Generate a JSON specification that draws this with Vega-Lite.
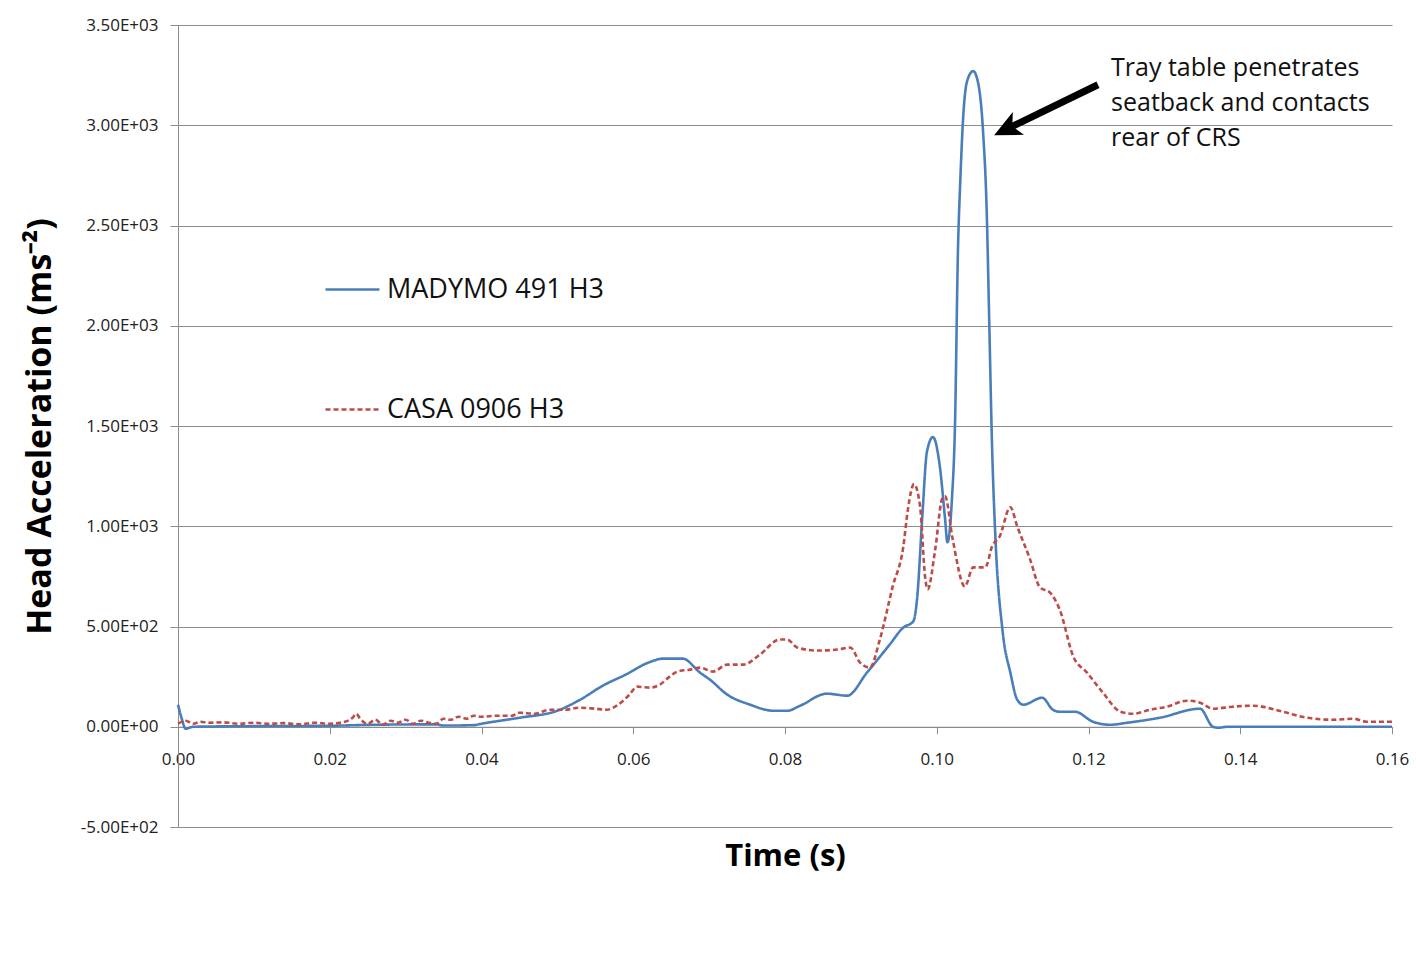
{
  "$schema": "https://vega.github.io/schema/vega-lite/v6.json",
  "width": 1214,
  "height": 802,
  "autosize": "none",
  "padding": {"left": 178, "top": 25, "right": 24, "bottom": 130},
  "background": "white",
  "config": {"view": {"stroke": null}, "font": "Open Sans"},
  "datasets": {
    "curves": [
      {"t": 0, "acc": 110, "series": "MADYMO 491 H3"},
      {"t": 0.0005, "acc": 40, "series": "MADYMO 491 H3"},
      {"t": 0.001, "acc": -10, "series": "MADYMO 491 H3"},
      {"t": 0.0015, "acc": -5, "series": "MADYMO 491 H3"},
      {"t": 0.002, "acc": 0, "series": "MADYMO 491 H3"},
      {"t": 0.01, "acc": 3, "series": "MADYMO 491 H3"},
      {"t": 0.02, "acc": 5, "series": "MADYMO 491 H3"},
      {"t": 0.026, "acc": 10, "series": "MADYMO 491 H3"},
      {"t": 0.034, "acc": 12, "series": "MADYMO 491 H3"},
      {"t": 0.035, "acc": 6, "series": "MADYMO 491 H3"},
      {"t": 0.039, "acc": 8, "series": "MADYMO 491 H3"},
      {"t": 0.04, "acc": 15, "series": "MADYMO 491 H3"},
      {"t": 0.045, "acc": 45, "series": "MADYMO 491 H3"},
      {"t": 0.05, "acc": 80, "series": "MADYMO 491 H3"},
      {"t": 0.053, "acc": 135, "series": "MADYMO 491 H3"},
      {"t": 0.056, "acc": 205, "series": "MADYMO 491 H3"},
      {"t": 0.059, "acc": 260, "series": "MADYMO 491 H3"},
      {"t": 0.062, "acc": 320, "series": "MADYMO 491 H3"},
      {"t": 0.064, "acc": 340, "series": "MADYMO 491 H3"},
      {"t": 0.0665, "acc": 340, "series": "MADYMO 491 H3"},
      {"t": 0.0688, "acc": 270, "series": "MADYMO 491 H3"},
      {"t": 0.0701, "acc": 235, "series": "MADYMO 491 H3"},
      {"t": 0.0724, "acc": 160, "series": "MADYMO 491 H3"},
      {"t": 0.0754, "acc": 110, "series": "MADYMO 491 H3"},
      {"t": 0.0784, "acc": 80, "series": "MADYMO 491 H3"},
      {"t": 0.0803, "acc": 80, "series": "MADYMO 491 H3"},
      {"t": 0.082, "acc": 105, "series": "MADYMO 491 H3"},
      {"t": 0.0855, "acc": 165, "series": "MADYMO 491 H3"},
      {"t": 0.0882, "acc": 155, "series": "MADYMO 491 H3"},
      {"t": 0.0908, "acc": 270, "series": "MADYMO 491 H3"},
      {"t": 0.0938, "acc": 410, "series": "MADYMO 491 H3"},
      {"t": 0.0956, "acc": 495, "series": "MADYMO 491 H3"},
      {"t": 0.0969, "acc": 525, "series": "MADYMO 491 H3"},
      {"t": 0.0974, "acc": 635, "series": "MADYMO 491 H3"},
      {"t": 0.0981, "acc": 1050, "series": "MADYMO 491 H3"},
      {"t": 0.0987, "acc": 1370, "series": "MADYMO 491 H3"},
      {"t": 0.0995, "acc": 1445, "series": "MADYMO 491 H3"},
      {"t": 0.1004, "acc": 1300, "series": "MADYMO 491 H3"},
      {"t": 0.1011, "acc": 1035, "series": "MADYMO 491 H3"},
      {"t": 0.1014, "acc": 920, "series": "MADYMO 491 H3"},
      {"t": 0.102, "acc": 1135, "series": "MADYMO 491 H3"},
      {"t": 0.1024, "acc": 1500, "series": "MADYMO 491 H3"},
      {"t": 0.1028, "acc": 2385, "series": "MADYMO 491 H3"},
      {"t": 0.1031, "acc": 2720, "series": "MADYMO 491 H3"},
      {"t": 0.1035, "acc": 3050, "series": "MADYMO 491 H3"},
      {"t": 0.104, "acc": 3220, "series": "MADYMO 491 H3"},
      {"t": 0.1048, "acc": 3270, "series": "MADYMO 491 H3"},
      {"t": 0.1054, "acc": 3220, "series": "MADYMO 491 H3"},
      {"t": 0.1061, "acc": 2970, "series": "MADYMO 491 H3"},
      {"t": 0.1066, "acc": 2550, "series": "MADYMO 491 H3"},
      {"t": 0.1069, "acc": 2050, "series": "MADYMO 491 H3"},
      {"t": 0.1073, "acc": 1385, "series": "MADYMO 491 H3"},
      {"t": 0.1077, "acc": 970, "series": "MADYMO 491 H3"},
      {"t": 0.1087, "acc": 470, "series": "MADYMO 491 H3"},
      {"t": 0.1097, "acc": 270, "series": "MADYMO 491 H3"},
      {"t": 0.1106, "acc": 135, "series": "MADYMO 491 H3"},
      {"t": 0.1114, "acc": 110, "series": "MADYMO 491 H3"},
      {"t": 0.1139, "acc": 145, "series": "MADYMO 491 H3"},
      {"t": 0.1153, "acc": 85, "series": "MADYMO 491 H3"},
      {"t": 0.1162, "acc": 75, "series": "MADYMO 491 H3"},
      {"t": 0.1182, "acc": 75, "series": "MADYMO 491 H3"},
      {"t": 0.1206, "acc": 25, "series": "MADYMO 491 H3"},
      {"t": 0.1228, "acc": 10, "series": "MADYMO 491 H3"},
      {"t": 0.1251, "acc": 20, "series": "MADYMO 491 H3"},
      {"t": 0.1294, "acc": 45, "series": "MADYMO 491 H3"},
      {"t": 0.1347, "acc": 90, "series": "MADYMO 491 H3"},
      {"t": 0.1364, "acc": 0, "series": "MADYMO 491 H3"},
      {"t": 0.1371, "acc": -5, "series": "MADYMO 491 H3"},
      {"t": 0.1383, "acc": 0, "series": "MADYMO 491 H3"},
      {"t": 0.16, "acc": 0, "series": "MADYMO 491 H3"},
      {"t": 0, "acc": 15, "series": "CASA 0906 H3"},
      {"t": 0.001, "acc": 30, "series": "CASA 0906 H3"},
      {"t": 0.002, "acc": 15, "series": "CASA 0906 H3"},
      {"t": 0.003, "acc": 25, "series": "CASA 0906 H3"},
      {"t": 0.004, "acc": 20, "series": "CASA 0906 H3"},
      {"t": 0.006, "acc": 22, "series": "CASA 0906 H3"},
      {"t": 0.008, "acc": 15, "series": "CASA 0906 H3"},
      {"t": 0.01, "acc": 20, "series": "CASA 0906 H3"},
      {"t": 0.012, "acc": 15, "series": "CASA 0906 H3"},
      {"t": 0.014, "acc": 18, "series": "CASA 0906 H3"},
      {"t": 0.016, "acc": 12, "series": "CASA 0906 H3"},
      {"t": 0.018, "acc": 20, "series": "CASA 0906 H3"},
      {"t": 0.02, "acc": 15, "series": "CASA 0906 H3"},
      {"t": 0.022, "acc": 25, "series": "CASA 0906 H3"},
      {"t": 0.023, "acc": 45, "series": "CASA 0906 H3"},
      {"t": 0.0235, "acc": 65, "series": "CASA 0906 H3"},
      {"t": 0.024, "acc": 40, "series": "CASA 0906 H3"},
      {"t": 0.025, "acc": 15, "series": "CASA 0906 H3"},
      {"t": 0.026, "acc": 35, "series": "CASA 0906 H3"},
      {"t": 0.027, "acc": 10, "series": "CASA 0906 H3"},
      {"t": 0.028, "acc": 30, "series": "CASA 0906 H3"},
      {"t": 0.029, "acc": 20, "series": "CASA 0906 H3"},
      {"t": 0.03, "acc": 35, "series": "CASA 0906 H3"},
      {"t": 0.031, "acc": 15, "series": "CASA 0906 H3"},
      {"t": 0.032, "acc": 30, "series": "CASA 0906 H3"},
      {"t": 0.033, "acc": 20, "series": "CASA 0906 H3"},
      {"t": 0.034, "acc": 15, "series": "CASA 0906 H3"},
      {"t": 0.035, "acc": 40, "series": "CASA 0906 H3"},
      {"t": 0.036, "acc": 35, "series": "CASA 0906 H3"},
      {"t": 0.037, "acc": 50, "series": "CASA 0906 H3"},
      {"t": 0.038, "acc": 40, "series": "CASA 0906 H3"},
      {"t": 0.039, "acc": 55, "series": "CASA 0906 H3"},
      {"t": 0.04, "acc": 50, "series": "CASA 0906 H3"},
      {"t": 0.042, "acc": 55, "series": "CASA 0906 H3"},
      {"t": 0.044, "acc": 55, "series": "CASA 0906 H3"},
      {"t": 0.045, "acc": 70, "series": "CASA 0906 H3"},
      {"t": 0.047, "acc": 65, "series": "CASA 0906 H3"},
      {"t": 0.049, "acc": 85, "series": "CASA 0906 H3"},
      {"t": 0.051, "acc": 85, "series": "CASA 0906 H3"},
      {"t": 0.053, "acc": 95, "series": "CASA 0906 H3"},
      {"t": 0.055, "acc": 90, "series": "CASA 0906 H3"},
      {"t": 0.0565, "acc": 85, "series": "CASA 0906 H3"},
      {"t": 0.058, "acc": 110, "series": "CASA 0906 H3"},
      {"t": 0.0595, "acc": 160, "series": "CASA 0906 H3"},
      {"t": 0.0605, "acc": 200, "series": "CASA 0906 H3"},
      {"t": 0.0622, "acc": 195, "series": "CASA 0906 H3"},
      {"t": 0.0635, "acc": 210, "series": "CASA 0906 H3"},
      {"t": 0.0648, "acc": 250, "series": "CASA 0906 H3"},
      {"t": 0.0658, "acc": 275, "series": "CASA 0906 H3"},
      {"t": 0.0675, "acc": 285, "series": "CASA 0906 H3"},
      {"t": 0.0688, "acc": 295, "series": "CASA 0906 H3"},
      {"t": 0.0705, "acc": 275, "series": "CASA 0906 H3"},
      {"t": 0.0724, "acc": 310, "series": "CASA 0906 H3"},
      {"t": 0.0745, "acc": 310, "series": "CASA 0906 H3"},
      {"t": 0.0767, "acc": 360, "series": "CASA 0906 H3"},
      {"t": 0.0793, "acc": 435, "series": "CASA 0906 H3"},
      {"t": 0.0803, "acc": 435, "series": "CASA 0906 H3"},
      {"t": 0.0816, "acc": 395, "series": "CASA 0906 H3"},
      {"t": 0.0842, "acc": 380, "series": "CASA 0906 H3"},
      {"t": 0.0869, "acc": 385, "series": "CASA 0906 H3"},
      {"t": 0.0886, "acc": 395, "series": "CASA 0906 H3"},
      {"t": 0.0899, "acc": 320, "series": "CASA 0906 H3"},
      {"t": 0.0912, "acc": 295, "series": "CASA 0906 H3"},
      {"t": 0.0925, "acc": 435, "series": "CASA 0906 H3"},
      {"t": 0.0942, "acc": 700, "series": "CASA 0906 H3"},
      {"t": 0.0956, "acc": 900, "series": "CASA 0906 H3"},
      {"t": 0.0962, "acc": 1085, "series": "CASA 0906 H3"},
      {"t": 0.097, "acc": 1210, "series": "CASA 0906 H3"},
      {"t": 0.0978, "acc": 1100, "series": "CASA 0906 H3"},
      {"t": 0.0985, "acc": 735, "series": "CASA 0906 H3"},
      {"t": 0.0988, "acc": 685, "series": "CASA 0906 H3"},
      {"t": 0.0998, "acc": 885, "series": "CASA 0906 H3"},
      {"t": 0.1007, "acc": 1135, "series": "CASA 0906 H3"},
      {"t": 0.1011, "acc": 1150, "series": "CASA 0906 H3"},
      {"t": 0.1021, "acc": 935, "series": "CASA 0906 H3"},
      {"t": 0.1037, "acc": 700, "series": "CASA 0906 H3"},
      {"t": 0.1048, "acc": 795, "series": "CASA 0906 H3"},
      {"t": 0.1064, "acc": 795, "series": "CASA 0906 H3"},
      {"t": 0.1073, "acc": 900, "series": "CASA 0906 H3"},
      {"t": 0.1083, "acc": 950, "series": "CASA 0906 H3"},
      {"t": 0.1097, "acc": 1095, "series": "CASA 0906 H3"},
      {"t": 0.1106, "acc": 1000, "series": "CASA 0906 H3"},
      {"t": 0.1123, "acc": 835, "series": "CASA 0906 H3"},
      {"t": 0.1136, "acc": 695, "series": "CASA 0906 H3"},
      {"t": 0.1149, "acc": 670, "series": "CASA 0906 H3"},
      {"t": 0.1162, "acc": 585, "series": "CASA 0906 H3"},
      {"t": 0.118, "acc": 350, "series": "CASA 0906 H3"},
      {"t": 0.1198, "acc": 270, "series": "CASA 0906 H3"},
      {"t": 0.1219, "acc": 170, "series": "CASA 0906 H3"},
      {"t": 0.1242, "acc": 75, "series": "CASA 0906 H3"},
      {"t": 0.1259, "acc": 65, "series": "CASA 0906 H3"},
      {"t": 0.1281, "acc": 85, "series": "CASA 0906 H3"},
      {"t": 0.1303, "acc": 100, "series": "CASA 0906 H3"},
      {"t": 0.133, "acc": 130, "series": "CASA 0906 H3"},
      {"t": 0.1347, "acc": 120, "series": "CASA 0906 H3"},
      {"t": 0.1364, "acc": 90, "series": "CASA 0906 H3"},
      {"t": 0.139, "acc": 100, "series": "CASA 0906 H3"},
      {"t": 0.1417, "acc": 105, "series": "CASA 0906 H3"},
      {"t": 0.1456, "acc": 75, "series": "CASA 0906 H3"},
      {"t": 0.1488, "acc": 45, "series": "CASA 0906 H3"},
      {"t": 0.1522, "acc": 35, "series": "CASA 0906 H3"},
      {"t": 0.1549, "acc": 40, "series": "CASA 0906 H3"},
      {"t": 0.1567, "acc": 25, "series": "CASA 0906 H3"},
      {"t": 0.16, "acc": 25, "series": "CASA 0906 H3"}
    ],
    "arrow": [
      {"t1": 0.12125, "a1": 3202, "t2": 0.10934, "a2": 2983}
    ],
    "note": [
      {"t": 0.12297, "acc": 3347, "label": "Tray table penetrates\nseatback and contacts\nrear of CRS"}
    ]
  },
  "layer": [
    {
      "data": {"name": "curves"},
      "mark": {"type": "line", "interpolate": "monotone", "strokeWidth": 2.6},
      "encoding": {
        "x": {
          "field": "t", "type": "quantitative",
          "scale": {"domain": [0, 0.16], "nice": false, "zero": false},
          "axis": {
            "title": "Time (s)",
            "values": [0, 0.02, 0.04, 0.06, 0.08, 0.1, 0.12, 0.14, 0.16],
            "format": ".2f",
            "offset": -100.25,
            "grid": false,
            "domainColor": "#8c8c8c",
            "tickColor": "#8c8c8c",
            "tickSize": 7,
            "labelPadding": 26,
            "labelBaseline": "middle",
            "labelFont": "Open Sans",
            "labelFontSize": 17,
            "labelColor": "#222222",
            "labelFlush": false,
            "labelOverlap": false,
            "titleFont": "Open Sans",
            "titleFontSize": 31,
            "titleFontWeight": "bold",
            "titleColor": "#000000",
            "titleBaseline": "middle",
            "titleY": 130
          }
        },
        "y": {
          "field": "acc", "type": "quantitative",
          "scale": {"domain": [-500, 3500], "nice": false, "zero": false},
          "axis": {
            "title": "Head Acceleration (ms⁻²)",
            "values": [-500, 0, 500, 1000, 1500, 2000, 2500, 3000, 3500],
            "labelExpr": "datum.value == 0 ? '0.00E+00' : (datum.value < 0 ? '-' : '') + format(abs(datum.value) / pow(10, floor(log(abs(datum.value)) / LN10 + 1e-9)), '.2f') + 'E+' + format(floor(log(abs(datum.value)) / LN10 + 1e-9), '02d')",
            "grid": true,
            "gridColor": "#8c8c8c",
            "gridWidth": 1,
            "domainColor": "#8c8c8c",
            "tickColor": "#8c8c8c",
            "tickSize": 8,
            "labelPadding": 12,
            "labelFont": "Open Sans",
            "labelFontSize": 17,
            "labelColor": "#222222",
            "labelOverlap": false,
            "titleFont": "Open Sans",
            "titleFontSize": 34,
            "titleFontWeight": "bold",
            "titleColor": "#000000",
            "titleBaseline": "middle",
            "titleX": -138
          }
        },
        "color": {
          "field": "series", "type": "nominal",
          "scale": {"domain": ["MADYMO 491 H3", "CASA 0906 H3"], "range": ["#4a7ebb", "#be4b48"]},
          "legend": {
            "orient": "none", "legendX": 146, "legendY": 236, "title": null,
            "symbolType": "stroke", "symbolSize": 2916, "symbolStrokeWidth": 2.6,
            "labelFont": "Open Sans", "labelFontSize": 27, "labelColor": "#111111",
            "labelOffset": 6, "rowPadding": 78, "labelLimit": 400
          }
        },
        "strokeDash": {
          "field": "series", "type": "nominal",
          "scale": {"domain": ["MADYMO 491 H3", "CASA 0906 H3"], "range": [[1, 0], [5, 3]]},
          "legend": {
            "orient": "none", "legendX": 146, "legendY": 236, "title": null,
            "symbolType": "stroke", "symbolSize": 2916, "symbolStrokeWidth": 2.6,
            "labelFont": "Open Sans", "labelFontSize": 27, "labelColor": "#111111",
            "labelOffset": 6, "rowPadding": 78, "labelLimit": 400
          }
        }
      }
    },
    {
      "data": {"name": "arrow"},
      "mark": {"type": "rule", "color": "#000000", "strokeWidth": 7},
      "encoding": {
        "x": {"field": "t1", "type": "quantitative"},
        "y": {"field": "a1", "type": "quantitative"},
        "x2": {"field": "t2"},
        "y2": {"field": "a2"}
      }
    },
    {
      "data": {"name": "arrow"},
      "mark": {"type": "point", "shape": "M0,-1L0.85,0.8L0,0.35L-0.85,0.8Z", "filled": true, "color": "#000000", "opacity": 1, "size": 900, "angle": 244},
      "encoding": {
        "x": {"field": "t2", "type": "quantitative"},
        "y": {"field": "a2", "type": "quantitative"}
      }
    },
    {
      "data": {"name": "note"},
      "mark": {"type": "text", "align": "left", "baseline": "top", "lineBreak": "\n", "lineHeight": 35, "font": "Open Sans", "fontSize": 25, "color": "#111111"},
      "encoding": {
        "x": {"field": "t", "type": "quantitative"},
        "y": {"field": "acc", "type": "quantitative"},
        "text": {"field": "label"}
      }
    }
  ]
}
